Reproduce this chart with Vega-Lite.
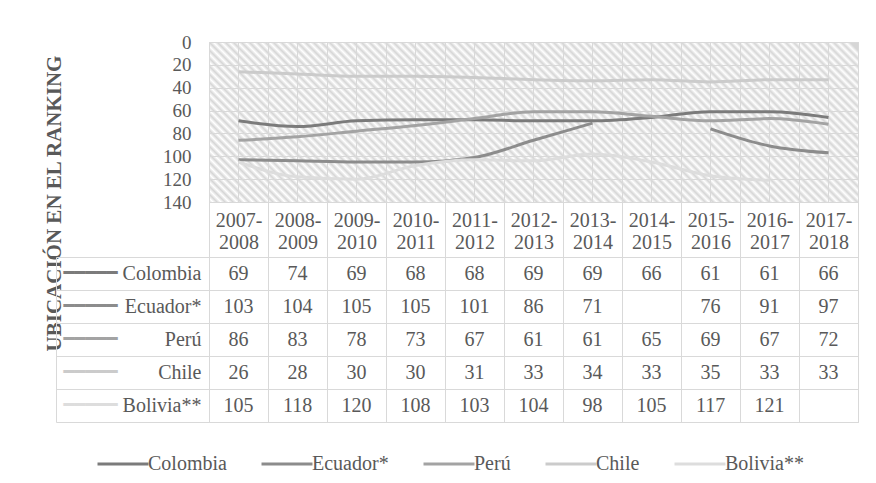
{
  "$schema": "https://vega.github.io/schema/vega-lite/v6.json",
  "padding": {"left": 42, "top": 32, "right": 5, "bottom": 5},
  "background": "white",
  "config": {
    "font": "Liberation Serif",
    "view": {"stroke": null},
    "axis": {"labelFont": "Liberation Serif", "labelColor": "#595959", "titleFont": "Liberation Serif"},
    "legend": {"labelFont": "Liberation Serif"}
  },
  "data": {
    "values": [
      {"year": "2007-2008", "country": "Colombia", "value": 69},
      {"year": "2008-2009", "country": "Colombia", "value": 74},
      {"year": "2009-2010", "country": "Colombia", "value": 69},
      {"year": "2010-2011", "country": "Colombia", "value": 68},
      {"year": "2011-2012", "country": "Colombia", "value": 68},
      {"year": "2012-2013", "country": "Colombia", "value": 69},
      {"year": "2013-2014", "country": "Colombia", "value": 69},
      {"year": "2014-2015", "country": "Colombia", "value": 66},
      {"year": "2015-2016", "country": "Colombia", "value": 61},
      {"year": "2016-2017", "country": "Colombia", "value": 61},
      {"year": "2017-2018", "country": "Colombia", "value": 66},
      {"year": "2007-2008", "country": "Ecuador*", "value": 103},
      {"year": "2008-2009", "country": "Ecuador*", "value": 104},
      {"year": "2009-2010", "country": "Ecuador*", "value": 105},
      {"year": "2010-2011", "country": "Ecuador*", "value": 105},
      {"year": "2011-2012", "country": "Ecuador*", "value": 101},
      {"year": "2012-2013", "country": "Ecuador*", "value": 86},
      {"year": "2013-2014", "country": "Ecuador*", "value": 71},
      {"year": "2014-2015", "country": "Ecuador*", "value": null},
      {"year": "2015-2016", "country": "Ecuador*", "value": 76},
      {"year": "2016-2017", "country": "Ecuador*", "value": 91},
      {"year": "2017-2018", "country": "Ecuador*", "value": 97},
      {"year": "2007-2008", "country": "Perú", "value": 86},
      {"year": "2008-2009", "country": "Perú", "value": 83},
      {"year": "2009-2010", "country": "Perú", "value": 78},
      {"year": "2010-2011", "country": "Perú", "value": 73},
      {"year": "2011-2012", "country": "Perú", "value": 67},
      {"year": "2012-2013", "country": "Perú", "value": 61},
      {"year": "2013-2014", "country": "Perú", "value": 61},
      {"year": "2014-2015", "country": "Perú", "value": 65},
      {"year": "2015-2016", "country": "Perú", "value": 69},
      {"year": "2016-2017", "country": "Perú", "value": 67},
      {"year": "2017-2018", "country": "Perú", "value": 72},
      {"year": "2007-2008", "country": "Chile", "value": 26},
      {"year": "2008-2009", "country": "Chile", "value": 28},
      {"year": "2009-2010", "country": "Chile", "value": 30},
      {"year": "2010-2011", "country": "Chile", "value": 30},
      {"year": "2011-2012", "country": "Chile", "value": 31},
      {"year": "2012-2013", "country": "Chile", "value": 33},
      {"year": "2013-2014", "country": "Chile", "value": 34},
      {"year": "2014-2015", "country": "Chile", "value": 33},
      {"year": "2015-2016", "country": "Chile", "value": 35},
      {"year": "2016-2017", "country": "Chile", "value": 33},
      {"year": "2017-2018", "country": "Chile", "value": 33},
      {"year": "2007-2008", "country": "Bolivia**", "value": 105},
      {"year": "2008-2009", "country": "Bolivia**", "value": 118},
      {"year": "2009-2010", "country": "Bolivia**", "value": 120},
      {"year": "2010-2011", "country": "Bolivia**", "value": 108},
      {"year": "2011-2012", "country": "Bolivia**", "value": 103},
      {"year": "2012-2013", "country": "Bolivia**", "value": 104},
      {"year": "2013-2014", "country": "Bolivia**", "value": 98},
      {"year": "2014-2015", "country": "Bolivia**", "value": 105},
      {"year": "2015-2016", "country": "Bolivia**", "value": 117},
      {"year": "2016-2017", "country": "Bolivia**", "value": 121},
      {"year": "2017-2018", "country": "Bolivia**", "value": null}
    ]
  },
  "bounds": "flush",
  "spacing": 55,
  "vconcat": [
    {
      "width": 649,
      "height": 160,
      "view": {
        "stroke": "#d9d9d9",
        "fill": {
          "gradient": "linear",
          "x1": 0, "y1": 1, "x2": 1.1625, "y2": 0.7135,
          "stops": [
            {"offset": 0, "color": "#d6d6d6"}, {"offset": 0.005, "color": "#ffffff"},
            {"offset": 0.01, "color": "#d6d6d6"}, {"offset": 0.015, "color": "#ffffff"},
            {"offset": 0.02, "color": "#d6d6d6"}, {"offset": 0.025, "color": "#ffffff"},
            {"offset": 0.03, "color": "#d6d6d6"}, {"offset": 0.035, "color": "#ffffff"},
            {"offset": 0.04, "color": "#d6d6d6"}, {"offset": 0.045, "color": "#ffffff"},
            {"offset": 0.05, "color": "#d6d6d6"}, {"offset": 0.055, "color": "#ffffff"},
            {"offset": 0.06, "color": "#d6d6d6"}, {"offset": 0.065, "color": "#ffffff"},
            {"offset": 0.07, "color": "#d6d6d6"}, {"offset": 0.075, "color": "#ffffff"},
            {"offset": 0.08, "color": "#d6d6d6"}, {"offset": 0.085, "color": "#ffffff"},
            {"offset": 0.09, "color": "#d6d6d6"}, {"offset": 0.095, "color": "#ffffff"},
            {"offset": 0.1, "color": "#d6d6d6"}, {"offset": 0.105, "color": "#ffffff"},
            {"offset": 0.11, "color": "#d6d6d6"}, {"offset": 0.115, "color": "#ffffff"},
            {"offset": 0.12, "color": "#d6d6d6"}, {"offset": 0.125, "color": "#ffffff"},
            {"offset": 0.13, "color": "#d6d6d6"}, {"offset": 0.135, "color": "#ffffff"},
            {"offset": 0.14, "color": "#d6d6d6"}, {"offset": 0.145, "color": "#ffffff"},
            {"offset": 0.15, "color": "#d6d6d6"}, {"offset": 0.155, "color": "#ffffff"},
            {"offset": 0.16, "color": "#d6d6d6"}, {"offset": 0.165, "color": "#ffffff"},
            {"offset": 0.17, "color": "#d6d6d6"}, {"offset": 0.175, "color": "#ffffff"},
            {"offset": 0.18, "color": "#d6d6d6"}, {"offset": 0.185, "color": "#ffffff"},
            {"offset": 0.19, "color": "#d6d6d6"}, {"offset": 0.195, "color": "#ffffff"},
            {"offset": 0.2, "color": "#d6d6d6"}, {"offset": 0.205, "color": "#ffffff"},
            {"offset": 0.21, "color": "#d6d6d6"}, {"offset": 0.215, "color": "#ffffff"},
            {"offset": 0.22, "color": "#d6d6d6"}, {"offset": 0.225, "color": "#ffffff"},
            {"offset": 0.23, "color": "#d6d6d6"}, {"offset": 0.235, "color": "#ffffff"},
            {"offset": 0.24, "color": "#d6d6d6"}, {"offset": 0.245, "color": "#ffffff"},
            {"offset": 0.25, "color": "#d6d6d6"}, {"offset": 0.255, "color": "#ffffff"},
            {"offset": 0.26, "color": "#d6d6d6"}, {"offset": 0.265, "color": "#ffffff"},
            {"offset": 0.27, "color": "#d6d6d6"}, {"offset": 0.275, "color": "#ffffff"},
            {"offset": 0.28, "color": "#d6d6d6"}, {"offset": 0.285, "color": "#ffffff"},
            {"offset": 0.29, "color": "#d6d6d6"}, {"offset": 0.295, "color": "#ffffff"},
            {"offset": 0.3, "color": "#d6d6d6"}, {"offset": 0.305, "color": "#ffffff"},
            {"offset": 0.31, "color": "#d6d6d6"}, {"offset": 0.315, "color": "#ffffff"},
            {"offset": 0.32, "color": "#d6d6d6"}, {"offset": 0.325, "color": "#ffffff"},
            {"offset": 0.33, "color": "#d6d6d6"}, {"offset": 0.335, "color": "#ffffff"},
            {"offset": 0.34, "color": "#d6d6d6"}, {"offset": 0.345, "color": "#ffffff"},
            {"offset": 0.35, "color": "#d6d6d6"}, {"offset": 0.355, "color": "#ffffff"},
            {"offset": 0.36, "color": "#d6d6d6"}, {"offset": 0.365, "color": "#ffffff"},
            {"offset": 0.37, "color": "#d6d6d6"}, {"offset": 0.375, "color": "#ffffff"},
            {"offset": 0.38, "color": "#d6d6d6"}, {"offset": 0.385, "color": "#ffffff"},
            {"offset": 0.39, "color": "#d6d6d6"}, {"offset": 0.395, "color": "#ffffff"},
            {"offset": 0.4, "color": "#d6d6d6"}, {"offset": 0.405, "color": "#ffffff"},
            {"offset": 0.41, "color": "#d6d6d6"}, {"offset": 0.415, "color": "#ffffff"},
            {"offset": 0.42, "color": "#d6d6d6"}, {"offset": 0.425, "color": "#ffffff"},
            {"offset": 0.43, "color": "#d6d6d6"}, {"offset": 0.435, "color": "#ffffff"},
            {"offset": 0.44, "color": "#d6d6d6"}, {"offset": 0.445, "color": "#ffffff"},
            {"offset": 0.45, "color": "#d6d6d6"}, {"offset": 0.455, "color": "#ffffff"},
            {"offset": 0.46, "color": "#d6d6d6"}, {"offset": 0.465, "color": "#ffffff"},
            {"offset": 0.47, "color": "#d6d6d6"}, {"offset": 0.475, "color": "#ffffff"},
            {"offset": 0.48, "color": "#d6d6d6"}, {"offset": 0.485, "color": "#ffffff"},
            {"offset": 0.49, "color": "#d6d6d6"}, {"offset": 0.495, "color": "#ffffff"},
            {"offset": 0.5, "color": "#d6d6d6"}, {"offset": 0.505, "color": "#ffffff"},
            {"offset": 0.51, "color": "#d6d6d6"}, {"offset": 0.515, "color": "#ffffff"},
            {"offset": 0.52, "color": "#d6d6d6"}, {"offset": 0.525, "color": "#ffffff"},
            {"offset": 0.53, "color": "#d6d6d6"}, {"offset": 0.535, "color": "#ffffff"},
            {"offset": 0.54, "color": "#d6d6d6"}, {"offset": 0.545, "color": "#ffffff"},
            {"offset": 0.55, "color": "#d6d6d6"}, {"offset": 0.555, "color": "#ffffff"},
            {"offset": 0.56, "color": "#d6d6d6"}, {"offset": 0.565, "color": "#ffffff"},
            {"offset": 0.57, "color": "#d6d6d6"}, {"offset": 0.575, "color": "#ffffff"},
            {"offset": 0.58, "color": "#d6d6d6"}, {"offset": 0.585, "color": "#ffffff"},
            {"offset": 0.59, "color": "#d6d6d6"}, {"offset": 0.595, "color": "#ffffff"},
            {"offset": 0.6, "color": "#d6d6d6"}, {"offset": 0.605, "color": "#ffffff"},
            {"offset": 0.61, "color": "#d6d6d6"}, {"offset": 0.615, "color": "#ffffff"},
            {"offset": 0.62, "color": "#d6d6d6"}, {"offset": 0.625, "color": "#ffffff"},
            {"offset": 0.63, "color": "#d6d6d6"}, {"offset": 0.635, "color": "#ffffff"},
            {"offset": 0.64, "color": "#d6d6d6"}, {"offset": 0.645, "color": "#ffffff"},
            {"offset": 0.65, "color": "#d6d6d6"}, {"offset": 0.655, "color": "#ffffff"},
            {"offset": 0.66, "color": "#d6d6d6"}, {"offset": 0.665, "color": "#ffffff"},
            {"offset": 0.67, "color": "#d6d6d6"}, {"offset": 0.675, "color": "#ffffff"},
            {"offset": 0.68, "color": "#d6d6d6"}, {"offset": 0.685, "color": "#ffffff"},
            {"offset": 0.69, "color": "#d6d6d6"}, {"offset": 0.695, "color": "#ffffff"},
            {"offset": 0.7, "color": "#d6d6d6"}, {"offset": 0.705, "color": "#ffffff"},
            {"offset": 0.71, "color": "#d6d6d6"}, {"offset": 0.715, "color": "#ffffff"},
            {"offset": 0.72, "color": "#d6d6d6"}, {"offset": 0.725, "color": "#ffffff"},
            {"offset": 0.73, "color": "#d6d6d6"}, {"offset": 0.735, "color": "#ffffff"},
            {"offset": 0.74, "color": "#d6d6d6"}, {"offset": 0.745, "color": "#ffffff"},
            {"offset": 0.75, "color": "#d6d6d6"}, {"offset": 0.755, "color": "#ffffff"},
            {"offset": 0.76, "color": "#d6d6d6"}, {"offset": 0.765, "color": "#ffffff"},
            {"offset": 0.77, "color": "#d6d6d6"}, {"offset": 0.775, "color": "#ffffff"},
            {"offset": 0.78, "color": "#d6d6d6"}, {"offset": 0.785, "color": "#ffffff"},
            {"offset": 0.79, "color": "#d6d6d6"}, {"offset": 0.795, "color": "#ffffff"},
            {"offset": 0.8, "color": "#d6d6d6"}, {"offset": 0.805, "color": "#ffffff"},
            {"offset": 0.81, "color": "#d6d6d6"}, {"offset": 0.815, "color": "#ffffff"},
            {"offset": 0.82, "color": "#d6d6d6"}, {"offset": 0.825, "color": "#ffffff"},
            {"offset": 0.83, "color": "#d6d6d6"}, {"offset": 0.835, "color": "#ffffff"},
            {"offset": 0.84, "color": "#d6d6d6"}, {"offset": 0.845, "color": "#ffffff"},
            {"offset": 0.85, "color": "#d6d6d6"}, {"offset": 0.855, "color": "#ffffff"},
            {"offset": 0.86, "color": "#d6d6d6"}, {"offset": 0.865, "color": "#ffffff"},
            {"offset": 0.87, "color": "#d6d6d6"}, {"offset": 0.875, "color": "#ffffff"},
            {"offset": 0.88, "color": "#d6d6d6"}, {"offset": 0.885, "color": "#ffffff"},
            {"offset": 0.89, "color": "#d6d6d6"}, {"offset": 0.895, "color": "#ffffff"},
            {"offset": 0.9, "color": "#d6d6d6"}, {"offset": 0.905, "color": "#ffffff"},
            {"offset": 0.91, "color": "#d6d6d6"}, {"offset": 0.915, "color": "#ffffff"},
            {"offset": 0.92, "color": "#d6d6d6"}, {"offset": 0.925, "color": "#ffffff"},
            {"offset": 0.93, "color": "#d6d6d6"}, {"offset": 0.935, "color": "#ffffff"},
            {"offset": 0.94, "color": "#d6d6d6"}, {"offset": 0.945, "color": "#ffffff"},
            {"offset": 0.95, "color": "#d6d6d6"}, {"offset": 0.955, "color": "#ffffff"},
            {"offset": 0.96, "color": "#d6d6d6"}, {"offset": 0.965, "color": "#ffffff"},
            {"offset": 0.97, "color": "#d6d6d6"}, {"offset": 0.975, "color": "#ffffff"},
            {"offset": 0.98, "color": "#d6d6d6"}, {"offset": 0.985, "color": "#ffffff"},
            {"offset": 0.99, "color": "#d6d6d6"}, {"offset": 0.995, "color": "#ffffff"},
            {"offset": 1, "color": "#d6d6d6"}
          ]
        }
      },
      "encoding": {
        "y": {
          "field": "value", "type": "quantitative",
          "scale": {"domain": [0, 140], "reverse": true, "nice": false, "zero": false},
          "axis": {
            "values": [0, 20, 40, 60, 80, 100, 120, 140],
            "grid": true, "gridColor": "#d9d9d9",
            "domain": false, "ticks": false,
            "labelFontSize": 19, "labelPadding": 18, "labelFlush": false, "labelOverlap": false, "labelBound": false,
            "title": "UBICACIÓN EN EL RANKING",
            "titleFontSize": 21, "titleFontWeight": "bold", "titleColor": "#595959",
            "titleAngle": 270, "titleX": -155, "titleY": 161,
            "titleBaseline": "middle", "titleAlign": "center"
          }
        }
      },
      "layer": [
        {
          "mark": {"type": "point", "opacity": 0},
          "encoding": {
            "x": {
              "field": "year", "type": "nominal",
              "scale": {"type": "band", "paddingInner": 0, "paddingOuter": 0},
              "bandPosition": 0.5,
              "axis": {"grid": true, "gridColor": "#d9d9d9", "labels": false, "ticks": false, "domain": false, "title": null}
            }
          }
        },
        {
          "mark": {"type": "line", "interpolate": "monotone", "strokeWidth": 3, "invalid": "break-paths-filter-domains"},
          "encoding": {
            "x": {
              "field": "year", "type": "nominal",
              "scale": {"type": "band", "paddingInner": 0, "paddingOuter": 0},
              "bandPosition": 0.5,
              "axis": {"grid": true, "gridColor": "#d9d9d9", "tickBand": "extent", "labels": false, "ticks": false, "domain": false, "title": null}
            },
            "color": {
              "field": "country", "type": "nominal",
              "scale": {
                "domain": ["Colombia", "Ecuador*", "Perú", "Chile", "Bolivia**"],
                "range": ["#7b7b7b", "#8c8c8c", "#a3a3a3", "#cbcbcb", "#dddddd"]
              },
              "legend": {
                "orient": "none", "legendX": -113, "legendY": 395,
                "direction": "horizontal", "title": null,
                "symbolType": "stroke", "symbolSize": 2600, "symbolStrokeWidth": 3,
                "labelFontSize": 20, "labelColor": "#595959",
                "columnPadding": 28, "labelOffset": -2
              }
            }
          }
        }
      ],
      "resolve": {"axis": {"x": "independent"}}
    },
    {
      "width": 649,
      "height": 165,
      "view": {"stroke": "#d9d9d9"},
      "layer": [
        {
          "mark": {"type": "text", "fontSize": 20, "color": "#595959", "font": "Liberation Serif"},
          "transform": [{"filter": "isValid(datum.value)"}],
          "encoding": {
            "x": {
              "field": "year", "type": "nominal",
              "scale": {"type": "band", "paddingInner": 0, "paddingOuter": 0},
              "axis": {
                "orient": "top", "title": null, "labelAngle": 0,
                "tickBand": "extent", "tickSize": 55, "tickColor": "#d9d9d9",
                "grid": true, "gridColor": "#d9d9d9",
                "domain": true, "domainColor": "#d9d9d9",
                "labelExpr": "[slice(datum.label, 0, 5), slice(datum.label, 5)]",
                "labelPadding": -28, "labelLineHeight": 22, "labelFontSize": 20,
                "minExtent": 55, "maxExtent": 55
              }
            },
            "y": {
              "field": "country", "type": "nominal",
              "sort": ["Colombia", "Ecuador*", "Perú", "Chile", "Bolivia**"],
              "scale": {"type": "band", "paddingInner": 0, "paddingOuter": 0},
              "axis": {
                "title": null, "tickBand": "extent", "tickSize": 153, "tickColor": "#d9d9d9",
                "grid": true, "gridColor": "#d9d9d9", "domain": false,
                "labelPadding": -145, "labelFontSize": 20
              }
            },
            "text": {"field": "value", "type": "quantitative"}
          }
        },
        {
          "mark": {"type": "point", "opacity": 0},
          "encoding": {
            "y": {
              "field": "country", "type": "nominal",
              "sort": ["Colombia", "Ecuador*", "Perú", "Chile", "Bolivia**"],
              "axis": {
                "orient": "left", "offset": 153, "title": null,
                "ticks": false, "grid": false,
                "domain": true, "domainColor": "#d9d9d9",
                "labelExpr": "'━━━━━'", "labelAlign": "left", "labelPadding": -7,
                "labelFont": "DejaVu Sans", "labelFontSize": 18,
                "labelColor": {
                  "condition": [
                    {"test": "datum.value === 'Colombia'", "value": "#7b7b7b"},
                    {"test": "datum.value === 'Ecuador*'", "value": "#8c8c8c"},
                    {"test": "datum.value === 'Perú'", "value": "#a3a3a3"},
                    {"test": "datum.value === 'Chile'", "value": "#cbcbcb"}
                  ],
                  "value": "#dddddd"
                }
              }
            }
          }
        }
      ],
      "resolve": {"axis": {"y": "independent"}}
    }
  ]
}
